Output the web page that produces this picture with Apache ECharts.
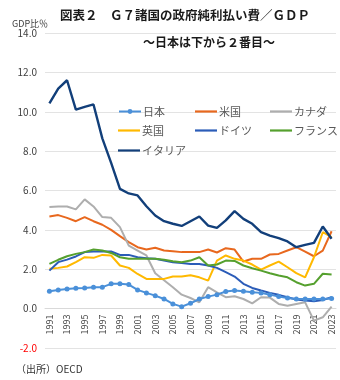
<!DOCTYPE html>
<html>
<head>
<meta charset="utf-8">
<script src="https://cdn.jsdelivr.net/npm/echarts@6/dist/echarts.min.js"></script>
<style>
  html, body { margin: 0; padding: 0; background: #fff; }
  #chart { width: 340px; height: 380px; }
</style>
</head>
<body>
<div id="chart"></div>
<script>
// Net interest payments of general government, % of GDP (G7)
const years = ['1991','1992','1993','1994','1995','1996','1997','1998','1999','2000','2001',
  '2002','2003','2004','2005','2006','2007','2008','2009','2010','2011','2012','2013',
  '2014','2015','2016','2017','2018','2019','2020','2021','2022','2023'];

const japan = [0.88,0.95,1.0,1.03,1.05,1.09,1.09,1.26,1.26,1.22,0.95,0.8,0.66,0.49,0.24,0.1,
  0.27,0.49,0.61,0.71,0.87,0.92,0.88,0.83,0.8,0.71,0.61,0.54,0.49,0.49,0.49,0.49,0.52];
const usa = [4.68,4.75,4.61,4.44,4.65,4.44,4.26,4.0,3.68,3.38,3.12,3.0,3.09,2.95,2.92,2.87,
  2.87,2.87,3.0,2.85,3.07,3.0,2.39,2.53,2.53,2.75,2.78,2.95,3.12,2.9,2.66,2.95,3.93];
const canada = [5.16,5.19,5.19,5.04,5.55,5.19,4.65,4.61,4.14,3.2,2.95,2.7,1.8,1.44,1.09,0.71,
  0.54,0.32,1.09,0.83,0.58,0.63,0.49,0.27,0.58,0.56,0.24,0.15,0.24,0.32,-0.61,-0.44,0.1];
const uk = [2.02,2.07,2.14,2.36,2.61,2.58,2.73,2.7,2.19,2.07,1.76,1.51,1.51,1.51,1.63,1.63,
  1.7,1.59,1.42,2.44,2.7,2.53,2.44,2.24,1.98,2.19,2.39,2.1,1.8,1.59,2.61,3.88,3.63];
const germany = [1.93,2.36,2.49,2.65,2.87,2.9,2.9,2.9,2.73,2.73,2.61,2.56,2.53,2.44,2.36,2.32,
  2.27,2.27,2.19,2.07,1.85,1.63,1.26,1.05,0.92,0.8,0.7,0.58,0.46,0.41,0.37,0.44,0.58];
const france = [2.27,2.48,2.66,2.78,2.87,3.0,2.95,2.83,2.61,2.53,2.53,2.53,2.53,2.48,2.41,2.36,
  2.44,2.61,2.19,2.24,2.44,2.42,2.19,2.05,1.93,1.8,1.68,1.59,1.34,1.17,1.26,1.77,1.73];
const italy = [10.42,11.18,11.6,10.11,10.25,10.37,8.65,7.4,6.08,5.85,5.75,5.2,4.73,4.44,4.31,4.2,
  4.44,4.68,4.22,4.1,4.48,4.95,4.56,4.31,3.88,3.71,3.58,3.41,3.12,3.24,3.34,4.17,3.55];

const seriesNames = ['日本','米国','カナダ','英国','ドイツ','フランス','イタリア'];
const yTicks = { min: -2, max: 14, step: 2 };

const titleText = '図表２　Ｇ７諸国の政府純利払い費／ＧＤＰ';
const subtitleText = '～日本は下から２番目～';
const unitText = 'GDP比％';
const sourceText = '（出所）OECD';

const font = '"Noto Sans CJK JP", "Noto Sans", sans-serif';
const colors = {
  '日本': '#4A90D9',
  '米国': '#E8681E',
  'カナダ': '#AEAEAE',
  '英国': '#FFB900',
  'ドイツ': '#2B5CB8',
  'フランス': '#55A02E',
  'イタリア': '#123F7A'
};
const values = {
  '日本': japan, '米国': usa, 'カナダ': canada, '英国': uk,
  'ドイツ': germany, 'フランス': france, 'イタリア': italy
};

const gridTop = 33;
const gridBottom = 32;
const chartHeight = 380;

const chart = echarts.init(document.getElementById('chart'), null, { renderer: 'canvas' });

// Legend laid out as a 3-column table inside the plot area
const legendCols = [118, 195, 270];
const legendRows = [106, 125, 145];
const plainLineIcon = 'path://M0,0H22V2.2H0Z';

const legends = seriesNames.map(function (name, i) {
  const item = name === '日本' ? { name: name } : { name: name, icon: plainLineIcon };
  return {
    data: [item],
    left: legendCols[i % 3],
    top: legendRows[Math.floor(i / 3)],
    padding: 0,
    itemWidth: 22,
    itemHeight: 6,
    itemGap: 0,
    selectedMode: false,
    textStyle: { fontFamily: font, fontSize: 11, color: '#595959', padding: [0, 0, 0, -3] }
  };
});

const series = seriesNames.map(function (name) {
  const isJapan = name === '日本';
  return {
    name: name,
    type: 'line',
    data: values[name],
    symbol: isJapan ? 'circle' : 'none',
    symbolSize: 5,
    showSymbol: isJapan,
    lineStyle: { width: name === 'イタリア' ? 2.4 : 2, color: colors[name] },
    itemStyle: { color: colors[name] },
    z: isJapan ? 3 : 2,
    animation: false
  };
});

// The category axis sits on the zero line: shift it up from the grid bottom
const plotHeight = chartHeight - gridTop - gridBottom;
const zeroOffset = plotHeight * (0 - yTicks.min) / (yTicks.max - yTicks.min);

chart.setOption({
  backgroundColor: '#fff',
  animation: false,
  title: [
    { text: titleText, left: 60, top: 9, padding: 0,
      textStyle: { fontFamily: font, fontSize: 12.5, fontWeight: 'bold', color: '#1a1a1a' } },
    { text: subtitleText, left: 143, top: 36, padding: 0,
      textStyle: { fontFamily: font, fontSize: 12, fontWeight: 'bold', color: '#1a1a1a' } },
    { text: unitText, left: 12, top: 19, padding: 0,
      textStyle: { fontFamily: font, fontSize: 9, fontWeight: 'normal', color: '#404040' } },
    { text: sourceText, left: 16, top: 364, padding: 0,
      textStyle: { fontFamily: font, fontSize: 10, fontWeight: 'normal', color: '#333' } }
  ],
  legend: legends,
  grid: { left: 45, right: 4, top: gridTop, bottom: gridBottom, containLabel: false },
  xAxis: {
    type: 'category',
    data: years,
    position: 'bottom',
    offset: -zeroOffset,
    boundaryGap: true,
    axisLine: { onZero: false, lineStyle: { color: '#d9d9d9', width: 1 } },
    axisTick: { show: false },
    axisLabel: {
      rotate: 90, interval: 1, fontSize: 9, fontFamily: font, color: '#404040', margin: 6
    },
    splitLine: { show: false }
  },
  yAxis: {
    type: 'value',
    min: yTicks.min,
    max: yTicks.max,
    interval: yTicks.step,
    axisLine: { show: false },
    axisTick: { show: false },
    axisLabel: {
      fontSize: 10, fontFamily: font, margin: 8,
      formatter: function (v) { return v.toFixed(1); },
      color: function (v) { return Number(v) < 0 ? '#FF0000' : '#404040'; }
    },
    splitLine: { lineStyle: { color: '#e3e3e3', width: 1 } }
  },
  series: series
});
</script>
</body>
</html>
